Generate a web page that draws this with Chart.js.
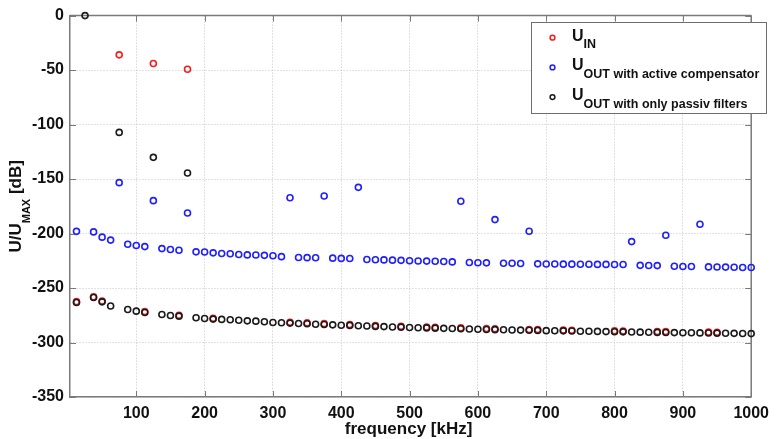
<!DOCTYPE html>
<html>
<head>
<meta charset="utf-8">
<script src="https://cdn.jsdelivr.net/npm/chart.js@4/dist/chart.umd.min.js"></script>
<style>
  html, body { margin: 0; padding: 0; background: #ffffff; }
  #wrap { width: 776px; height: 439px; }
</style>
</head>
<body>
<div id="wrap"><canvas id="chart" width="776" height="439"></canvas></div>
<script>
// Measurement grid, kHz
const frequencies = [
  12.5, 25, 37.5, 50, 62.5, 75, 87.5, 100, 112.5, 125, 137.5, 150, 162.5, 175, 187.5, 200,
  212.5, 225, 237.5, 250, 262.5, 275, 287.5, 300, 312.5, 325, 337.5, 350, 362.5, 375, 387.5, 400,
  412.5, 425, 437.5, 450, 462.5, 475, 487.5, 500, 512.5, 525, 537.5, 550, 562.5, 575, 587.5, 600,
  612.5, 625, 637.5, 650, 662.5, 675, 687.5, 700, 712.5, 725, 737.5, 750, 762.5, 775, 787.5, 800,
  812.5, 825, 837.5, 850, 862.5, 875, 887.5, 900, 912.5, 925, 937.5, 950, 962.5, 975, 987.5, 1000
];

// U_OUT with active compensator, dB (no sample at the fundamental)
const uOutActive = [
  -198, null, -198.5, -203.3, -206, -153.3, -209.8, -211, -212, -169.8, -213.8, -214.6, -215.3, -181.1, -216.8, -217,
  -217.7, -218.3, -218.5, -219.2, -219.6, -219.7, -220, -220.4, -221.2, -167.1, -222, -222.1, -222.2, -165.5, -222.6, -222.8,
  -222.9, -157.6, -223.8, -224, -224.2, -224.4, -224.6, -225, -225.2, -225.3, -225.4, -225.7, -226, -170.4, -226.6, -226.8,
  -226.9, -187.2, -227.2, -227.3, -227.5, -197.9, -227.8, -228, -228, -228.1, -228.1, -228.2, -228.2, -228.3, -228.3, -228.4,
  -228.4, -207.4, -229.2, -229.3, -229.4, -201.6, -230, -230.2, -230.2, -191.5, -230.6, -230.7, -230.8, -231, -231.1, -231.2
];

// U_OUT with only passive filters, dB
const uOutPassive = [
  -263.3, 0, -258.7, -262.7, -266.5, -107.2, -269.7, -271.2, -272.4, -130.1, -274.3, -275.2, -275.8, -144.5, -277.3, -277.9,
  -278.5, -278.8, -279.1, -279.5, -280.1, -280.4, -281, -281.6, -281.9, -282.2, -282.6, -282.8, -283.2, -283.5, -283.8, -284.1,
  -284.3, -284.6, -284.9, -285.2, -285.4, -285.7, -285.9, -286.2, -286.4, -286.6, -286.8, -287, -287.2, -287.4, -287.6, -287.8,
  -288, -288.2, -288.3, -288.5, -288.6, -288.8, -288.9, -289.1, -289.2, -289.3, -289.5, -289.6, -289.7, -289.8, -290, -290.1,
  -290.2, -290.3, -290.5, -290.6, -290.7, -290.8, -290.9, -291, -291.1, -291.2, -291.3, -291.4, -291.5, -291.6, -291.7, -291.8
];

// U_IN samples, kHz and dB
const uInFrequencies = [
  12.5, 37.5, 50, 75, 112.5, 125, 162.5, 175, 212.5, 325, 350, 375, 412.5, 450,
  487.5, 525, 537.5, 575, 612.5, 625, 675, 687.5, 725, 737.5, 800, 812.5, 862.5, 875, 937.5, 950
];
const uIn = [
  -262.5, -258, -262, -36, -271.6, -44, -275, -49.2, -277.8, -281.4, -282, -282.7, -283.5, -284.4,
  -285.1, -285.8, -286, -286.6, -287.2, -287.4, -288, -288.1, -288.5, -288.7, -289.3, -289.4, -289.9, -290, -290.5, -290.6
];

const xTicks = [100, 200, 300, 400, 500, 600, 700, 800, 900, 1000];
const yTicks = [0, -50, -100, -150, -200, -250, -300, -350];

const legendEntries = [
  { main: 'U', sub: 'IN', color: '#ff1a1a' },
  { main: 'U', sub: 'OUT with active compensator', color: '#1f1fff' },
  { main: 'U', sub: 'OUT with only passiv filters', color: '#1a1a1a' }
];

const FONT = '"Liberation Sans", Arial, Helvetica, sans-serif';
const AXIS_GRAY = '#7a7a7a';

const toPoints = (xs, ys) => xs.map((x, i) => ({ x: x, y: ys[i] }));

function ring(color) {
  return {
    showLine: false,
    clip: false,
    pointStyle: 'circle',
    pointRadius: 3,
    pointHoverRadius: 3,
    pointBorderWidth: 1.6,
    pointBorderColor: color,
    pointBackgroundColor: 'rgba(0,0,0,0)',
    borderColor: color,
    backgroundColor: 'rgba(0,0,0,0)'
  };
}

// Box, inward ticks, legend with subscripts and axis titles
const frame = {
  id: 'frame',
  beforeDatasetsDraw(chart) {
    const { ctx, chartArea: a, scales } = chart;
    ctx.save();
    ctx.strokeStyle = AXIS_GRAY;
    ctx.lineWidth = 1.5;
    ctx.beginPath();
    ctx.moveTo(a.left, a.top); ctx.lineTo(a.right, a.top);
    ctx.moveTo(a.right, a.top); ctx.lineTo(a.right, a.bottom);
    ctx.stroke();
    ctx.lineWidth = 1;
    ctx.beginPath();
    xTicks.forEach(v => {
      const px = Math.round(scales.x.getPixelForValue(v)) + 0.5;
      ctx.moveTo(px, a.bottom); ctx.lineTo(px, a.bottom - 6);
      ctx.moveTo(px, a.top); ctx.lineTo(px, a.top + 6);
    });
    yTicks.forEach(v => {
      const py = Math.round(scales.y.getPixelForValue(v)) + 0.5;
      ctx.moveTo(a.left, py); ctx.lineTo(a.left + 6, py);
      ctx.moveTo(a.right, py); ctx.lineTo(a.right - 6, py);
    });
    ctx.stroke();
    ctx.restore();
  },
  afterDraw(chart) {
    const { ctx, chartArea: a } = chart;
    ctx.save();

    // x axis title
    ctx.fillStyle = '#111';
    ctx.font = 'bold 17px ' + FONT;
    ctx.textAlign = 'center';
    ctx.textBaseline = 'alphabetic';
    ctx.fillText('frequency [kHz]', (a.left + a.right) / 2 - 2, 434);

    // y axis title, rotated, with subscript
    ctx.save();
    ctx.translate(21, (a.top + a.bottom) / 2);
    ctx.rotate(-Math.PI / 2);
    ctx.textAlign = 'left';
    const mainFont = 'bold 17px ' + FONT;
    const subFont = 'bold 11px ' + FONT;
    ctx.font = mainFont; const w1 = ctx.measureText('U/U').width;
    ctx.font = subFont; const w2 = ctx.measureText('MAX').width;
    ctx.font = mainFont; const w3 = ctx.measureText(' [dB]').width;
    let x0 = -(w1 + w2 + w3) / 2;
    ctx.font = mainFont; ctx.fillText('U/U', x0, 0); x0 += w1;
    ctx.font = subFont; ctx.fillText('MAX', x0, 9); x0 += w2;
    ctx.font = mainFont; ctx.fillText(' [dB]', x0, 0);
    ctx.restore();

    // legend
    const box = { x: 531.5, y: 22.5, w: 235, h: 91 };
    ctx.fillStyle = '#ffffff';
    ctx.fillRect(box.x, box.y, box.w, box.h);
    ctx.strokeStyle = '#6e6e6e';
    ctx.lineWidth = 1;
    ctx.strokeRect(box.x, box.y, box.w, box.h);
    legendEntries.forEach((e, i) => {
      const base = 40.7 + i * 29.7;
      ctx.beginPath();
      ctx.arc(552.5, base - 3, 2.4, 0, Math.PI * 2);
      ctx.strokeStyle = e.color;
      ctx.lineWidth = 1.5;
      ctx.stroke();
      ctx.fillStyle = '#111';
      ctx.textAlign = 'left';
      ctx.font = 'bold 16px ' + FONT;
      ctx.fillText(e.main, 572, base);
      const uw = ctx.measureText(e.main).width;
      ctx.font = 'bold 12.5px ' + FONT;
      ctx.fillText(e.sub, 572 + uw, base + 7.6);
    });
    ctx.restore();
  }
};

new Chart(document.getElementById('chart'), {
  type: 'scatter',
  data: {
    datasets: [
      Object.assign({ label: 'U_IN', data: toPoints(uInFrequencies, uIn), order: 3 }, ring('#ff1a1a')),
      Object.assign({ label: 'U_OUT with active compensator', data: toPoints(frequencies, uOutActive), order: 2 }, ring('#1f1fff')),
      Object.assign({ label: 'U_OUT with only passiv filters', data: toPoints(frequencies, uOutPassive), order: 1 }, ring('#1a1a1a'))
    ]
  },
  options: {
    responsive: false,
    animation: false,
    devicePixelRatio: 1,
    layout: { padding: { top: 15, right: 20, left: 0, bottom: 0 } },
    plugins: { legend: { display: false }, tooltip: { enabled: false } },
    scales: {
      x: {
        type: 'linear',
        min: 3,
        max: 1000,
        afterBuildTicks: s => { s.ticks = xTicks.map(v => ({ value: v })); },
        afterFit: s => { s.height = 42; },
        ticks: {
          autoSkip: false,
          maxRotation: 0,
          padding: 7,
          color: '#111',
          callback: v => String(v),
          font: { family: FONT, size: 16, weight: 'bold' }
        },
        grid: { color: '#c4c4c4', lineWidth: 1, drawTicks: false },
        border: { display: true, color: AXIS_GRAY, width: 1.5, dash: [1, 2] }
      },
      y: {
        type: 'linear',
        min: -350,
        max: 0,
        afterBuildTicks: s => { s.ticks = yTicks.map(v => ({ value: v })); },
        afterFit: s => { s.width = 70; },
        ticks: {
          padding: 6,
          color: '#111',
          callback: v => String(v),
          font: { family: FONT, size: 16, weight: 'bold' }
        },
        grid: { color: '#c4c4c4', lineWidth: 1, drawTicks: false },
        border: { display: true, color: AXIS_GRAY, width: 1.5, dash: [1, 2] }
      }
    }
  },
  plugins: [frame]
});
</script>
</body>
</html>
